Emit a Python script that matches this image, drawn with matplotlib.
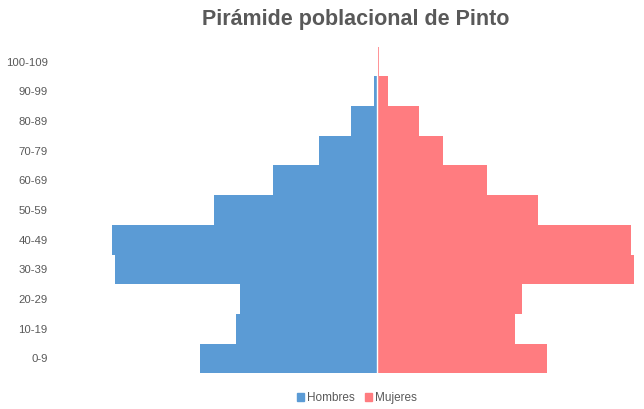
import matplotlib.pyplot as plt
import numpy as np
from matplotlib.patches import Patch

# grupos de edad, de abajo hacia arriba
grupos = ["0-9", "10-19", "20-29", "30-39", "40-49", "50-59",
          "60-69", "70-79", "80-89", "90-99", "100-109"]
hombres = [3540, 2815, 2740, 5240, 5300, 3255, 2080, 1160, 520, 60, 3]
mujeres = [3400, 2755, 2895, 5140, 5080, 3220, 2195, 1320, 840, 210, 30]

azul = "#5B9BD5"
rosa = "#FF7C80"
gris = "#595959"

plt.rcParams['font.family'] = ['Liberation Sans', 'DejaVu Sans']

fig = plt.figure(figsize=(6.44, 4.09), dpi=100)
ax = fig.add_axes([65 / 644, 1 - 373.3 / 409, 575 / 644, 326.6 / 409])

y = np.arange(len(grupos))
ax.barh(y, -np.array(hombres), height=1.0, color=azul, label="Hombres")
ax.barh(y, mujeres, height=1.0, color=rosa, label="Mujeres")
ax.axvline(0, color="white", linewidth=1.0)

ax.set_xlim(-6240, 5260)
ax.set_ylim(-0.5, len(grupos) - 0.5)
ax.set_yticks(y)
ax.set_yticklabels(grupos, fontsize=8.2, color=gris)
ax.tick_params(axis="y", length=0, pad=12.5)
ax.set_xticks([])
for s in ax.spines.values():
    s.set_visible(False)

fig.text(356 / 644, 1 - 19 / 409, "Pirámide poblacional de Pinto",
         ha="center", va="center", fontsize=15.5, fontweight="bold", color=gris)

handles = [Patch(color=azul, label="Hombres"), Patch(color=rosa, label="Mujeres")]
fig.legend(handles=handles, loc="center", bbox_to_anchor=(357 / 644, 1 - 398 / 409),
           ncol=2, frameon=False, fontsize=8.5, labelcolor=gris,
           handlelength=0.6, handleheight=0.6, handletextpad=0.3, columnspacing=0.8)

fig.savefig("out.png", dpi=100)
